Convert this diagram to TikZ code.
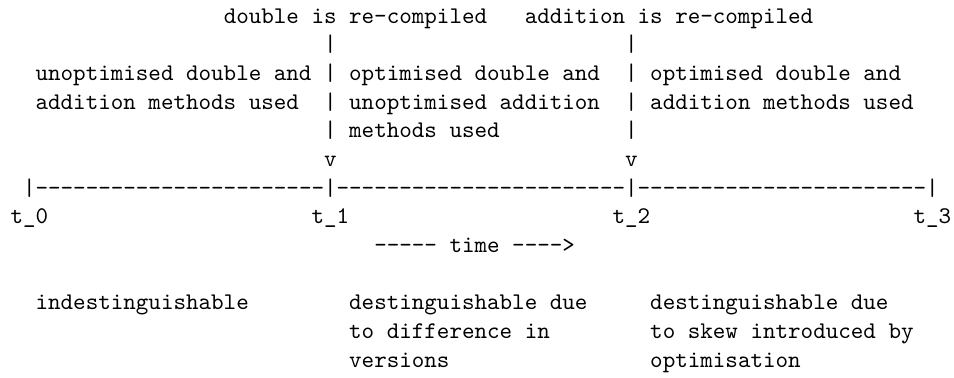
\documentclass[tikz,border=0pt]{standalone}
\usepackage{fontspec}
\begin{document}
% ASCII timeline, laid out on a monospace grid:
% one x unit = one character cell, one y unit = one text line
\begin{tikzpicture}[x=5.25pt, y=-12pt,
  ascii/.style={anchor=base west, inner sep=0pt, outer sep=0pt,
                font=\fontsize{10pt}{12pt}\ttfamily}]
\useasboundingbox (-4.4pt,9.63pt) rectangle (394.9pt,-148.57pt);

% events
\node[ascii] (dblrc) at (17,0) {double is re-compiled};
\node[ascii] (addrc) at (41,0) {addition is re-compiled};
\node[ascii] (bara1) at (25,1) {|};
\node[ascii] (barb1) at (49,1) {|};

% phase descriptions
\node[ascii] (ph1a) at (2,2)  {unoptimised double and};
\node[ascii] (bara2) at (25,2) {|};
\node[ascii] (ph2a) at (27,2) {optimised double and};
\node[ascii] (barb2) at (49,2) {|};
\node[ascii] (ph3a) at (51,2) {optimised double and};

\node[ascii] (ph1b) at (2,3)  {addition methods used};
\node[ascii] (bara3) at (25,3) {|};
\node[ascii] (ph2b) at (27,3) {unoptimised addition};
\node[ascii] (barb3) at (49,3) {|};
\node[ascii] (ph3b) at (51,3) {addition methods used};

\node[ascii] (bara4) at (25,4) {|};
\node[ascii] (ph2c) at (27,4) {methods used};
\node[ascii] (barb4) at (49,4) {|};

\node[ascii] (arra) at (25,5) {v};
\node[ascii] (arrb) at (49,5) {v};

% time axis
\node[ascii] (axis) at (1,6)
  {|-----------------------|-----------------------|-----------------------|};
\node[ascii] (t0) at (0,7)  {t\_0};
\node[ascii] (t1) at (24,7) {t\_1};
\node[ascii] (t2) at (48,7) {t\_2};
\node[ascii] (t3) at (72,7) {t\_3};
\node[ascii] (time) at (29,8) {----- time ---->};

% observability of each phase
\node[ascii] (obs1) at (2,10)  {indestinguishable};
\node[ascii] (obs2a) at (27,10) {destinguishable due};
\node[ascii] (obs3a) at (51,10) {destinguishable due};
\node[ascii] (obs2b) at (27,11) {to difference in};
\node[ascii] (obs3b) at (51,11) {to skew introduced by};
\node[ascii] (obs2c) at (27,12) {versions};
\node[ascii] (obs3c) at (51,12) {optimisation};
\end{tikzpicture}
\end{document}
